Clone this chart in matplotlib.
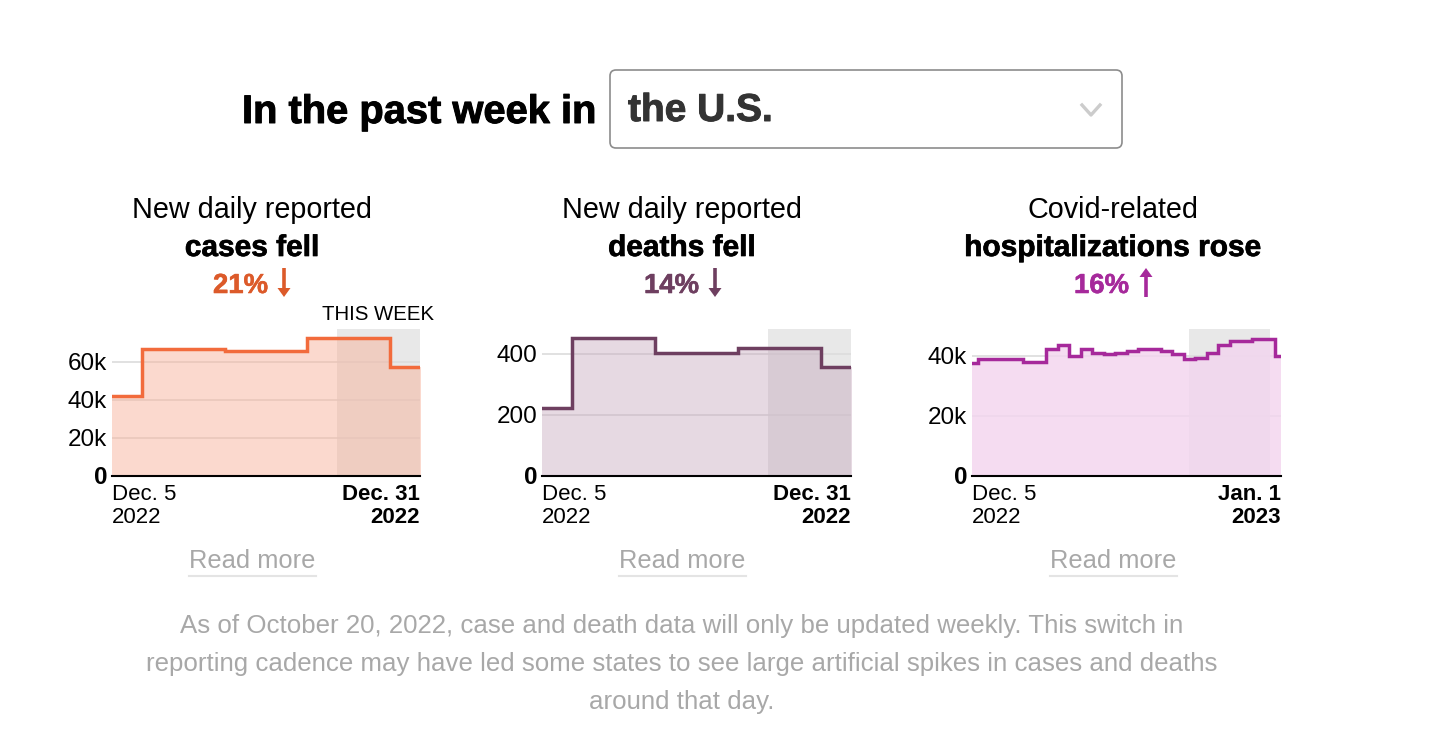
import numpy as np
import matplotlib
matplotlib.use("Agg")
import matplotlib.pyplot as plt
import matplotlib.patheffects as pe
from matplotlib.patches import FancyBboxPatch

W, H = 1456, 732

plt.rcParams['font.family'] = ['Liberation Sans', 'DejaVu Sans']

# days counted from Dec. 5
case_days = [-1, 6, 13, 20, 27]
case_values = [42000, 66700, 65800, 72800, 57500]

death_days = [-1, 6, 13, 20, 27]
death_values = [223, 453, 402, 420, 358]

hosp_days = list(range(28))
hosp_values = [37700, 38800, 38800, 38800, 38800, 38100, 38100, 42300, 43500, 39900,
               42300, 41100, 40500, 41100, 41800, 42300, 42300, 41800, 40500, 38800,
               39300, 41100, 43500, 45100, 45100, 45700, 45700, 39900]

def px(x, y) :
    return x / W, 1 - y / H

def label(x, y, s, size = 16, color = "black", weight = "normal", ha = "center", stroke = 0) :
    fx, fy = px(x, y)
    t = fig.text(fx, fy, s, fontsize = size, color = color, fontweight = weight, ha = ha, va = "center")
    if stroke > 0 :
        t.set_path_effects([pe.withStroke(linewidth = stroke, foreground = color)])

def arrow(x, y0, y1, color) :
    sign = 1 if y1 > y0 else -1
    fig.add_artist(plt.Line2D([x / W, x / W], [1 - y0 / H, 1 - (y1 - sign * 6) / H], color = color, lw = 2.6,
                              solid_capstyle = "butt"))
    xs = [x - 6.5, x + 6.5, x]
    ys = [y1 - sign * 8, y1 - sign * 8, y1 + sign * 1]
    fig.add_artist(plt.Polygon([px(a, b) for a, b in zip(xs, ys)], closed = True, color = color, lw = 0,
                               transform = fig.transFigure))

def panel(x0, x1, days, values, xmax, ymax, ticks, ticklabels, band_end, color, fill, alpha, backing, dates) :
    ax = fig.add_axes([x0 / W, 1 - 475.5 / H, (x1 - x0) / W, 146.5 / H])
    ax.set_xlim(0, xmax)
    ax.set_ylim(0, ymax)
    ax.axvspan(19, band_end, color = "#e8e8e8", lw = 0, zorder = 0)
    ax.set_axisbelow(True)
    ax.yaxis.grid(True, color = "#dcdcdc", lw = 1.2, zorder = 1)
    ax.fill_between(days, values, 0, step = "mid", color = "white", alpha = backing, lw = 0, zorder = 2)
    ax.fill_between(days, values, 0, step = "mid", color = fill, alpha = alpha, lw = 0, zorder = 3)
    ax.step(days, values, where = "mid", color = color, lw = 2.5, solid_joinstyle = "miter", zorder = 4)
    for s in ["top", "left", "right"] :
        ax.spines[s].set_visible(False)
    ax.spines["bottom"].set_linewidth(1.5)
    ax.spines["bottom"].set_zorder(5)
    ax.set_yticks(ticks)
    ax.set_yticklabels(ticklabels, fontsize = 17.5)
    ax.get_yticklabels()[0].set_fontweight("bold")
    ax.set_xticks([0, xmax])
    ax.set_xticklabels(dates, fontsize = 16, linespacing = 1.15)
    ax.get_xticklabels()[0].set_ha("left")
    ax.get_xticklabels()[1].set_ha("right")
    ax.get_xticklabels()[1].set_fontweight("bold")
    ax.tick_params(length = 0)
    ax.tick_params(axis = "y", pad = 3.5)
    ax.tick_params(axis = "x", pad = 6)
    return ax

fig = plt.figure(figsize = (W / 100, H / 100), dpi = 100)

# header with the dropdown
label(242, 112, "In the past week in", size = 28.7, weight = "bold", ha = "left", stroke = 0.7)
box = FancyBboxPatch((610, H - 148), 512, 78, boxstyle = "round,pad=0,rounding_size=6", fc = "white", ec = "#8c8c8c",
                     lw = 1.2, transform = matplotlib.transforms.Affine2D().scale(1 / W, 1 / H) + fig.transFigure)
fig.add_artist(box)
label(628, 111, "the U.S.", size = 28, color = "#333333", weight = "bold", ha = "left", stroke = 0.7)
fig.add_artist(plt.Line2D([1082 / W, 1091 / W, 1100 / W], [1 - 105 / H, 1 - 115 / H, 1 - 105 / H], color = "#cccccc", lw = 2.4))

panel(112, 420, case_days, case_values, 26, 77400, [0, 20000, 40000, 60000], ["0", "20k", "40k", "60k"],
      26, "#f26b3c", "#f26b3c", 0.25, 0.3, ["Dec. 5\n2022", "Dec. 31\n2022"])
panel(542, 851, death_days, death_values, 26, 482, [0, 200, 400], ["0", "200", "400"],
      26, "#6e3f60", "#82416e", 0.2, 0.3, ["Dec. 5\n2022", "Dec. 31\n2022"])
panel(972, 1281, hosp_days, hosp_values, 27, 49000, [0, 20000, 40000], ["0", "20k", "40k"],
      26, "#a6299b", "#c12bae", 0.16, 0.8, ["Dec. 5\n2022", "Jan. 1\n2023"])

# panel headings
centers = [252, 682, 1113]
first_lines = ["New daily reported", "New daily reported", "Covid-related"]
second_lines = ["cases fell", "deaths fell", "hospitalizations rose"]
changes = ["21%", "14%", "16%"]
change_left = [213, 644, 1074]
change_colors = ["#dc5a2a", "#6e3f60", "#a6299b"]
arrow_x = [284, 715, 1146]
arrow_ends = [(268, 296), (268, 296), (297, 269)]

for i in range(3) :
    label(centers[i], 210, first_lines[i], size = 20.7)
    label(centers[i], 248, second_lines[i], size = 21.5, weight = "bold", stroke = 0.5)
    label(change_left[i], 286, changes[i], size = 19.8, color = change_colors[i], weight = "bold", ha = "left", stroke = 0.4)
    arrow(arrow_x[i], arrow_ends[i][0], arrow_ends[i][1], change_colors[i])
    label(centers[i], 561, "Read more", size = 18.4, color = "#a8a8a8")
    fig.add_artist(plt.Line2D([(centers[i] - 63) / W, (centers[i] + 64) / W], [1 - 576 / H, 1 - 576 / H],
                              color = "#e4e4e4", lw = 1.5))

label(434, 315, "THIS WEEK", size = 14.7, ha = "right")

# footnote
label(682, 626, "As of October 20, 2022, case and death data will only be updated weekly. This switch in", size = 18.65, color = "#a8a8a8")
label(682, 664, "reporting cadence may have led some states to see large artificial spikes in cases and deaths", size = 18.65, color = "#a8a8a8")
label(682, 702, "around that day.", size = 18.65, color = "#a8a8a8")

fig.savefig("out.png", dpi = 100)
